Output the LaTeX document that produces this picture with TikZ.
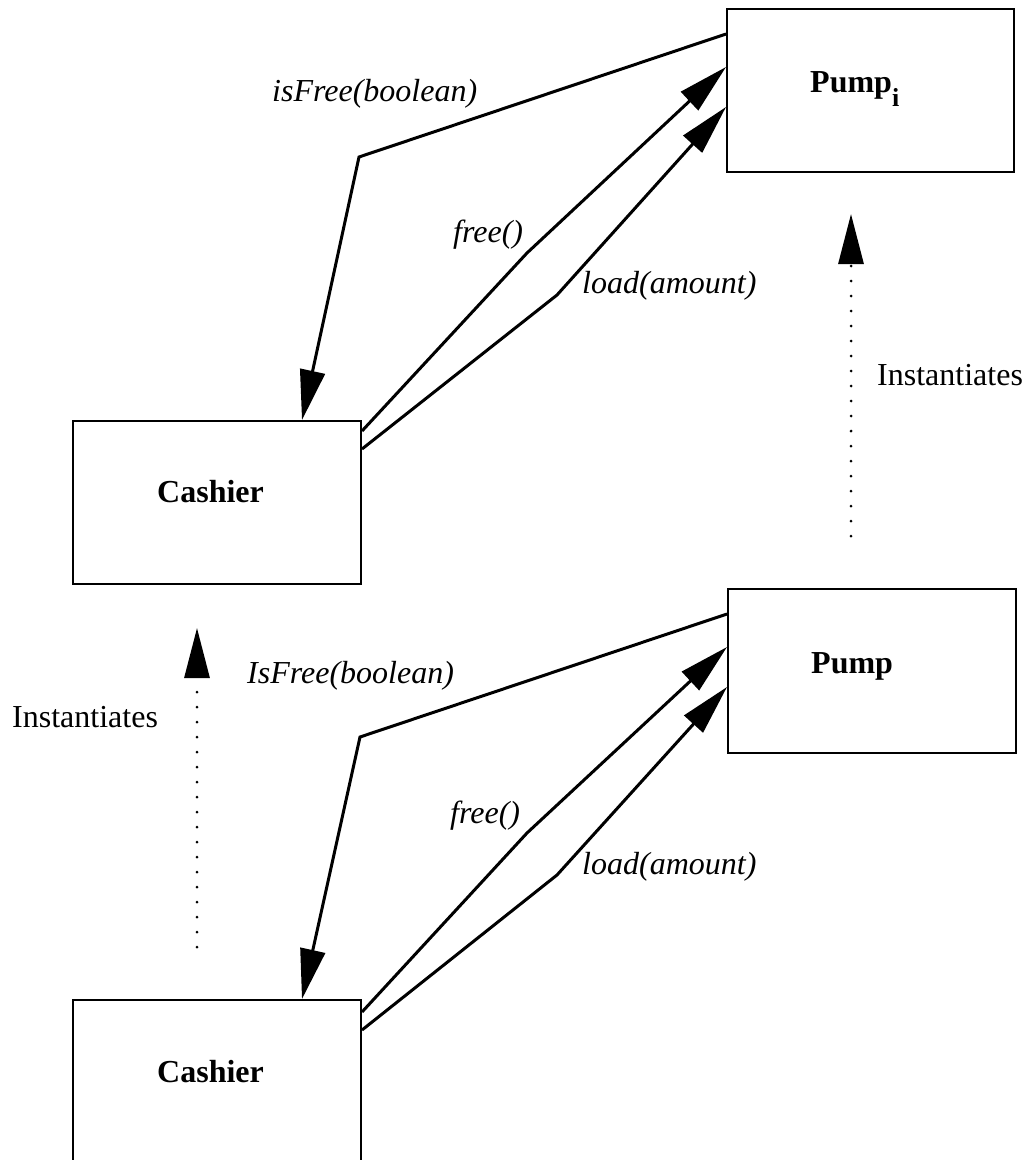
\documentclass[tikz,border=0pt]{standalone}
\usepackage{fontspec}
\setmainfont{Liberation Serif}
\usetikzlibrary{arrows.meta}
\tikzset{
  box/.style={draw, line width=2pt, rectangle, inner sep=0pt, minimum width=288pt, minimum height=163pt},
  conn/.style={line width=3pt, -{Triangle[length=50pt,width=25pt]}},
  inst/.style={line width=3pt, line cap=round, dash pattern=on 0pt off 15pt, -{Triangle[length=50pt,width=25pt]}},
  lbl/.style={anchor=base west, inner sep=0pt, font=\fontsize{32}{38}\selectfont\itshape},
  plainlbl/.style={anchor=base west, inner sep=0pt, font=\fontsize{32}{38}\selectfont},
  boxname/.style={anchor=base west, inner sep=0pt, font=\fontsize{32}{38}\selectfont\bfseries}
}
\begin{document}
\begin{tikzpicture}[x=1pt,y=-1pt]
\fill[white] (0,0) rectangle (1033,1160);
\useasboundingbox (0,0) rectangle (1033,1160);

% boxes
\node[box, minimum width=287pt] (pumpi) at (870.5,90.5) {};
\node[box] (cashier1) at (217,502.5) {};
\node[box, minimum height=164pt] (pump) at (872,671) {};
\node[box] (cashier2) at (217,1081.5) {};

% box names
\node[boxname] (pumpiname) at (810,92) {Pump\raisebox{-14pt}{\fontsize{26}{26}\selectfont i}};
\node[boxname] (cashier1name) at (157,502) {Cashier};
\node[boxname] (pumpname) at (811,673) {Pump};
\node[boxname] (cashier2name) at (157,1082) {Cashier};

% top group
\coordinate (t1) at (359,157);
\coordinate (t2) at (527,253);
\coordinate (t3) at (557,295);
\draw[conn] ([yshift=-26pt]pumpi.north west) -- (t1) -- ([xshift=230pt]cashier1.north west);
\draw[conn] ([yshift=-11pt]cashier1.north east) -- (t2) -- ([yshift=-59pt]pumpi.north west);
\draw[conn] ([yshift=-29pt]cashier1.north east) -- (t3) -- ([yshift=-99pt]pumpi.north west);
\node[lbl] (l1) at (272,101) {isFree(boolean)};
\node[lbl] (l2) at (453,242) {free()};
\node[lbl] (l3) at (582,293) {load(amount)};

% bottom group
\coordinate (b1) at (360,737);
\coordinate (b2) at (527,833);
\coordinate (b3) at (557,875);
\draw[conn] ([yshift=-26pt]pump.north west) -- (b1) -- ([xshift=230pt]cashier2.north west);
\draw[conn] ([yshift=-13pt]cashier2.north east) -- (b2) -- ([yshift=-59pt]pump.north west);
\draw[conn] ([yshift=-31pt]cashier2.north east) -- (b3) -- ([yshift=-99pt]pump.north west);
\node[lbl] (l4) at (247,683) {IsFree(boolean)};
\node[lbl] (l5) at (450,823) {free()};
\node[lbl] (l6) at (582,874) {load(amount)};

% instantiates
\draw[inst] ([xshift=-21pt,yshift=52pt]pump.north) -- ([xshift=-19.5pt,yshift=-41pt]pumpi.south);
\node[plainlbl] (i1) at (877,385) {Instantiates};
\draw[inst] ([xshift=-20pt,yshift=52pt]cashier2.north) -- ([xshift=-20pt,yshift=-43pt]cashier1.south);
\node[plainlbl] (i2) at (12,727) {Instantiates};
\end{tikzpicture}
\end{document}
